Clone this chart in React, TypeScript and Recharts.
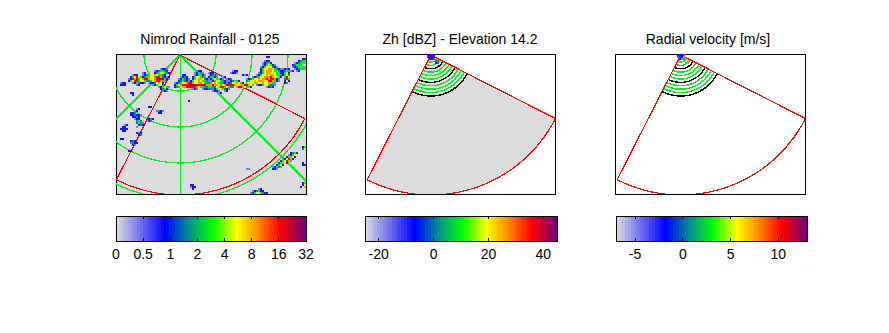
import React from "react";
import { ComposedChart, Line, Area, Bar, Scatter, XAxis, YAxis, ReferenceArea } from "recharts";

const PLOT_W = 190;
const PLOT_H = 140;
const titles = ["Nimrod Rainfall - 0125", "Zh [dBZ] - Elevation 14.2", "Radial velocity [m/s]"];

// Colour scale levels
const scaleColors = [
  "#d8d8e0","#cacae2","#bdbde4","#afafe6","#a2a2e8","#9494ea","#8787ec","#7979ee","#6c6cf0","#5e5ef2","#5151f4","#4343f6","#3636f8","#2828fa","#1b1bfc","#0d0dfe",
  "#0000ff","#0012f1","#0024e3","#0036d5","#0048c7","#005ab9","#006cab","#007e9d","#009090","#009e7e","#00ac6c","#00ba5a","#00c848","#00d636","#00e424","#00f212",
  "#00ff00","#20ff00","#40ff00","#60ff00","#80ff00","#a0ff00","#c0ff00","#e0ff00","#ffff00","#ffef00","#ffdf00","#ffcf00","#ffbf00","#ffaf00","#ffa000","#ff8e00",
  "#ff7c00","#ff6b00","#ff5900","#ff4700","#ff3500","#ff2400","#ff1200","#ff0000","#ee000f","#dd001e","#cc002d","#bb003c","#aa004b","#99005a","#880069","#780078",
];
const rainLevels = ["", "#7a7af0", "#1414ff", "#009090", "#00f020", "#f0ff00", "#ff9800", "#ff0000", "#a00050"];

// Colour bar axes
const rainTicks = [0, 1, 2, 3, 4, 5, 6, 7];
const rainTickLabels = ["0", "0.5", "1", "2", "4", "8", "16", "32"];
const zhTicks = [-20, 0, 20, 40];
const velTicks = [-5, 0, 5, 10];

// Radar geometry, in image pixels from the top left of a panel
const sectorEdges = [-27, 63];
const sectorRange = 140;
const sectorAzimuths = [-27,-24,-21,-18,-15,-12,-9,-6,-3,0,3,6,9,12,15,18,21,24,27,30,33,36,39,42,45,48,51,54,57,60,63];
const graticuleAzimuths = [-90,-85,-80,-75,-70,-65,-60,-55,-50,-45,-40,-35,-30,-25,-20,-15,-10,-5,0,5,10,15,20,25,30,35,40,45,50,55,60,65,70,75,80,85,90];
const graticuleRanges = [36, 72, 108, 144];
const graticuleSpokes = [-45, 0, 45];

// Gate rings of the sweep panels
const gateRanges = [3.6, 7, 10.4, 13.8, 17.2, 20.6, 24, 27.4, 30.8, 34.2, 37.6, 41];
const gateColors = ["#00e000", "#00f020", "#00f020", "#000000", "#00f020", "#00f020", "#00f020", "#000000", "#00f020", "#00f020", "#00f020", "#000000"];

// Rainfall cells: row, first column, level per 2 px cell (0 = no rain)
const rainRows = [
  { v: 14, u: 44, s: "1221" },
  { v: 16, u: 38, s: "1234432" },
  { v: 18, u: 26, s: "12000023455432" },
  { v: 20, u: 16, s: "12200123455654432" },
  { v: 22, u: 14, s: "24575423465547763212" },
  { v: 24, u: 12, s: "127674567765567787421" },
  { v: 26, u: 12, s: "2457745543345677641" },
  { v: 28, u: 4, s: "12200012432210122356520" },
  { v: 30, u: 4, s: "2220000012000000124553" },
  { v: 32, u: 42, s: "124541" },
  { v: 34, u: 44, s: "2342" },
  { v: 36, u: 46, s: "121" },

  { v: 16, u: 80, s: "122" },
  { v: 18, u: 78, s: "1243100122" },
  { v: 20, u: 66, s: "2200001244210023310" },
  { v: 22, u: 64, s: "12320024554310244210012" },
  { v: 24, u: 62, s: "124321024566532124544210123" },
  { v: 26, u: 62, s: "2343212455654431124554321123442" },
  { v: 28, u: 58, s: "12345567765566543345654432123556542" },
  { v: 30, u: 58, s: "2456777788877777666766545677776556677654" },
  { v: 32, u: 58, s: "234566777776544334433567765433567765442" },
  { v: 34, u: 76, s: "1210012233124554321" },
  { v: 36, u: 96, s: "12210012" },
  { v: 38, u: 102, s: "12" },

  { v: 2, u: 150, s: "22" },
  { v: 6, u: 148, s: "122" },
  { v: 8, u: 146, s: "12342" },
  { v: 10, u: 146, s: "1245421" },
  { v: 12, u: 144, s: "124555321" },
  { v: 14, u: 144, s: "24556654321" },
  { v: 16, u: 144, s: "245666544321" },
  { v: 18, u: 142, s: "1245665554421" },
  { v: 20, u: 140, s: "12455656654431" },
  { v: 22, u: 136, s: "123455666765542" },
  { v: 24, u: 130, s: "12345565667677621" },
  { v: 26, u: 130, s: "34556566655776421" },
  { v: 28, u: 134, s: "5566556556641" },
  { v: 30, u: 140, s: "1224554331" },
  { v: 32, u: 150, s: "1232" },

  { v: 16, u: 116, s: "122" },
  { v: 18, u: 114, s: "12210" },
  { v: 20, u: 126, s: "212" },
  { v: 14, u: 166, s: "1232" },
  { v: 16, u: 166, s: "234112" },
  { v: 18, u: 166, s: "2452" },
  { v: 20, u: 166, s: "2453" },
  { v: 22, u: 168, s: "475" },
  { v: 24, u: 168, s: "374" },
  { v: 26, u: 168, s: "252" },
  { v: 28, u: 168, s: "23" },
  { v: 4, u: 186, s: "22" },
  { v: 6, u: 182, s: "2344" },
  { v: 8, u: 178, s: "123444" },
  { v: 10, u: 176, s: "23444" },
  { v: 12, u: 176, s: "1234444" },
  { v: 14, u: 178, s: "123444" },
  { v: 16, u: 180, s: "12" },

  { v: 38, u: 14, s: "22" },
  { v: 40, u: 16, s: "2" },
  { v: 46, u: 72, s: "2" },
  { v: 52, u: 32, s: "22" },
  { v: 54, u: 20, s: "12" },
  { v: 56, u: 18, s: "120000000001321" },
  { v: 58, u: 14, s: "2230000000000022" },
  { v: 60, u: 14, s: "223221" },
  { v: 62, u: 16, s: "22320" },
  { v: 64, u: 18, s: "122" },
  { v: 64, u: 32, s: "232" },
  { v: 66, u: 20, s: "34300023" },
  { v: 68, u: 20, s: "3431" },
  { v: 70, u: 8, s: "1200000232" },
  { v: 72, u: 6, s: "22000001" },
  { v: 74, u: 4, s: "2222" },
  { v: 76, u: 6, s: "22" },
  { v: 78, u: 20, s: "232" },
  { v: 80, u: 22, s: "23" },
  { v: 84, u: 4, s: "22" },
  { v: 86, u: 14, s: "2320" },
  { v: 88, u: 14, s: "1322" },
  { v: 90, u: 16, s: "21" },
  { v: 96, u: 12, s: "22" },

  { v: 92, u: 186, s: "24" },
  { v: 94, u: 186, s: "35" },
  { v: 98, u: 174, s: "2342" },
  { v: 100, u: 172, s: "1245" },
  { v: 102, u: 170, s: "24652" },
  { v: 104, u: 166, s: "125762" },
  { v: 106, u: 164, s: "245761" },
  { v: 108, u: 162, s: "24652" },
  { v: 108, u: 186, s: "2" },
  { v: 110, u: 160, s: "2452" },
  { v: 110, u: 186, s: "22" },
  { v: 112, u: 156, s: "12431" },
  { v: 114, u: 156, s: "221" },
  { v: 114, u: 130, s: "11" },
  { v: 128, u: 186, s: "24" },
  { v: 130, u: 186, s: "25" },
  { v: 132, u: 184, s: "256" },
  { v: 130, u: 74, s: "22" },
  { v: 132, u: 74, s: "122" },
  { v: 134, u: 76, s: "2" },
  { v: 134, u: 142, s: "12" },
  { v: 136, u: 136, s: "1234220" },
  { v: 138, u: 134, s: "124554322" },
];

// Innermost gates that leave the ring colour
const zhRows = [
  { v: 0, u: 62, s: "2222" },
  { v: 2, u: 62, s: "8228" },
  { v: 4, u: 64, s: "223" },
  { v: 6, u: 70, s: "33" },
  { v: 8, u: 70, s: "23" },
];
const velRows = [
  { v: 0, u: 62, s: "2223" },
  { v: 2, u: 62, s: "3226" },
  { v: 4, u: 64, s: "243" },
  { v: 6, u: 72, s: "6" },
  { v: 8, u: 70, s: "46" },
];

type Row = { v: number; u: number; s: string };
const cellsFrom = (rows: Row[], palette: string[]) =>
  rows.flatMap((r) =>
    r.s.split("").flatMap((c, i) =>
      c === "0" ? [] : [{ x: r.u + i * 2 + 1, y: r.v + 1, fill: palette[Number(c)] }]
    )
  );

const rad = (d: number) => (d * Math.PI) / 180;
const polar = (ax: number, ay: number, r: number, az: number) => ({
  x: ax + r * Math.sin(rad(az)),
  y: ay + r * Math.cos(rad(az)),
});
const arc = (ax: number, ay: number, r: number, azs: number[]) => azs.map((a) => polar(ax, ay, r, a));

const CellMark = (p: any) => <rect x={p.cx - 1} y={p.cy - 1} width={2} height={2} fill={p.payload.fill} />;
const TickMark = (p: any) => {
  const inward = p.payload.level === 1 ? 3 : -3;
  return <line x1={p.cx} x2={p.cx} y1={p.cy} y2={p.cy + inward} stroke="#000000" strokeWidth={1} />;
};

const plain = { dot: false, activeDot: false, isAnimationActive: false, legendType: "none" as const };

function Panel({ left, apexX, apexY, mode, cells }: { left: number; apexX: number; apexY: number; mode: "map" | "sweep"; cells: any[] }) {
  const sectorOutline = [polar(apexX, apexY, sectorRange, sectorEdges[0]), { x: apexX, y: apexY }, polar(apexX, apexY, sectorRange, sectorEdges[1])];
  const sectorArc = arc(apexX, apexY, sectorRange, sectorAzimuths);
  const topOf = (x: number) => {
    const dx = x - apexX;
    const t = dx < 0 ? Math.tan(rad(-sectorEdges[0])) : Math.tan(rad(sectorEdges[1]));
    return apexY + Math.abs(dx) / t;
  };
  const fillRows = sectorArc.map((p) => ({ x: p.x, band: [topOf(p.x), p.y] }));
  return (
    <div style={{ position: "absolute", left: left - 2, top: 52 }}>
      <ComposedChart width={PLOT_W + 4} height={PLOT_H + 4} margin={{ top: 2, right: 2, bottom: 2, left: 2 }}>
        <XAxis type="number" dataKey="x" domain={[0, PLOT_W]} allowDataOverflow hide />
        <YAxis type="number" dataKey="y" domain={[0, PLOT_H]} reversed allowDataOverflow hide />
        {mode === "map" && <ReferenceArea x1={0} x2={PLOT_W} y1={0} y2={PLOT_H} fill="#dcdcdc" fillOpacity={1} stroke="none" />}
        {mode === "sweep" && cells === zhCells && (
          <Area data={fillRows} dataKey="band" stroke="none" fill="#dcdcdc" fillOpacity={1} dot={false} activeDot={false} isAnimationActive={false} legendType="none" />
        )}
        {mode === "map" && <Scatter data={cells} shape={CellMark} isAnimationActive={false} legendType="none" />}
        {mode === "map" &&
          graticuleRanges.map((r) => (
            <Line key={`r${r}`} data={arc(apexX, apexY, r, graticuleAzimuths)} dataKey="y" stroke="#00f020" strokeWidth={1.3} {...plain} />
          ))}
        {mode === "map" &&
          graticuleSpokes.map((a) => (
            <Line key={`s${a}`} data={[polar(apexX, apexY, 0, a), polar(apexX, apexY, 220, a)]} dataKey="y" stroke="#00f020" strokeWidth={a === 0 ? 1 : 1.5} {...plain} />
          ))}
        {mode === "sweep" &&
          gateRanges.map((r, i) => (
            <Line key={`g${r}`} data={arc(apexX, apexY, r, sectorAzimuths)} dataKey="y" stroke={gateColors[i]} strokeWidth={1.4} {...plain} />
          ))}
        {mode === "sweep" && <Scatter data={cells} shape={CellMark} isAnimationActive={false} legendType="none" />}
        <Line data={sectorOutline} dataKey="y" stroke="#ff0000" strokeWidth={1.2} {...plain} />
        <Line data={sectorArc} dataKey="y" stroke="#ff0000" strokeWidth={1.2} {...plain} />
        <ReferenceArea x1={0} x2={PLOT_W} y1={0} y2={PLOT_H} fill="none" stroke="#000000" strokeWidth={1} />
      </ComposedChart>
    </div>
  );
}

function ColorBar({ left, width, domain, ticks, labels }: { left: number; width: number; domain: [number, number]; ticks: number[]; labels?: string[] }) {
  const rows = scaleColors.map((c, i) => ({
    x: domain[0] + ((i + 0.5) / scaleColors.length) * (domain[1] - domain[0]),
    level: 1,
    fill: c,
  }));
  const frameRows = [
    { x: domain[0], level: 0 },
    { x: domain[1], level: 0 },
    { x: domain[1], level: 1 },
    { x: domain[0], level: 1 },
    { x: domain[0], level: 0 },
  ];
  const tickRows = ticks.flatMap((t) => [{ x: t, level: 0 }, { x: t, level: 1 }]);
  const bandWidth = width / scaleColors.length;
  const Band = (p: any) => (
    <rect x={p.x + p.width / 2 - bandWidth / 2} y={p.y} width={bandWidth + 0.6} height={p.height} fill={p.payload.fill} />
  );
  const tick = (p: any) => {
    const i = ticks.indexOf(p.payload.value);
    return (
      <text x={p.x} y={p.y + 18} textAnchor="middle" fontSize={14} fontFamily="Liberation Sans" fill="#000">
        {labels ? labels[i] : String(p.payload.value)}
      </text>
    );
  };
  return (
    <div style={{ position: "absolute", left: left - 20, top: 214 }}>
      <ComposedChart width={width + 40} height={62} data={rows} margin={{ top: 2, right: 20, bottom: 0, left: 20 }}>
        <XAxis type="number" dataKey="x" domain={domain} ticks={ticks} interval={0} tick={tick} tickLine={false} tickSize={0} tickMargin={0} axisLine={false} height={35} />
        <YAxis type="number" dataKey="level" domain={[0, 1]} hide />
        <Bar dataKey="level" shape={Band} isAnimationActive={false} legendType="none" />
        <Scatter data={tickRows} shape={TickMark} isAnimationActive={false} legendType="none" />
        <Line data={frameRows} dataKey="level" stroke="#000000" strokeWidth={1} {...plain} />
      </ComposedChart>
    </div>
  );
}

const rainCells = cellsFrom(rainRows, rainLevels);
const zhCells = cellsFrom(zhRows, rainLevels);
const velCells = cellsFrom(velRows, rainLevels);

const titleCenters = [210, 460, 708];

export default function App() {
  return (
    <div style={{ position: "absolute", left: 0, top: 0, width: 889, height: 333, background: "#fff", overflow: "hidden", shapeRendering: "crispEdges" }}>
      {titles.map((t, i) => (
        <div key={t} style={{ position: "absolute", left: titleCenters[i] - 110, width: 220, top: 31, textAlign: "center", fontFamily: "Liberation Sans", fontSize: 14, lineHeight: "16px", color: "#000" }}>
          {t}
        </div>
      ))}
      <Panel left={116} apexX={64} apexY={1} mode="map" cells={rainCells} />
      <Panel left={365} apexX={65.7} apexY={1} mode="sweep" cells={zhCells} />
      <Panel left={615} apexX={65.7} apexY={1} mode="sweep" cells={velCells} />
      <ColorBar left={116} width={190} domain={[0, 7]} ticks={rainTicks} labels={rainTickLabels} />
      <ColorBar left={365} width={192} domain={[-25, 45]} ticks={zhTicks} />
      <ColorBar left={616} width={191} domain={[-7, 13]} ticks={velTicks} />
    </div>
  );
}
